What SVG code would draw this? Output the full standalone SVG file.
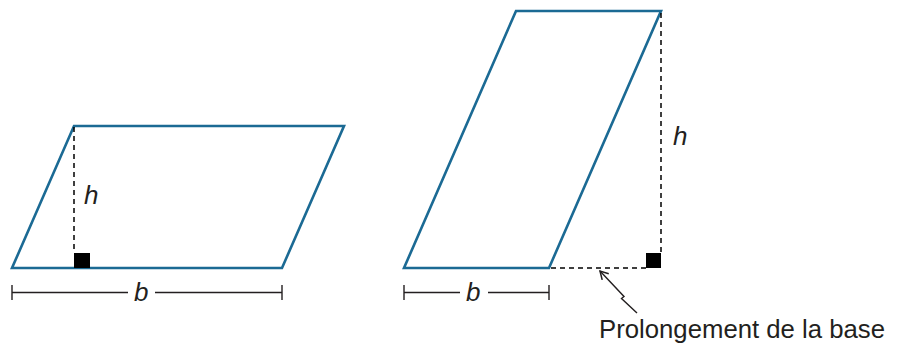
<svg xmlns="http://www.w3.org/2000/svg" width="902" height="345" viewBox="0 0 902 345">
<style>
.shape{fill:none;stroke:#1b6a94;stroke-width:2.6;stroke-linejoin:miter}
.dash{fill:none;stroke:#000;stroke-width:1.5;stroke-dasharray:5 4}
.dim{fill:none;stroke:#231f20;stroke-width:1.4}
.sq{fill:#000}
.lbl{font-family:"Liberation Sans",Arial,sans-serif;font-style:italic;font-size:26px;fill:#231f20}
.note{font-family:"Liberation Sans",Arial,sans-serif;font-size:25px;fill:#231f20}
</style>
<defs>
<marker id="openArrow" markerWidth="12" markerHeight="12" refX="9" refY="5" orient="auto-start-reverse" markerUnits="userSpaceOnUse">
<path d="M1,0.5 L9,5 L1,9.5" fill="none" stroke="#231f20" stroke-width="1.5"/>
</marker>
</defs>
<g id="parallelogram-left">
<polygon class="shape" points="12,268 282,268 344,126 74,126"/>
<line class="dash" x1="74" y1="127" x2="74" y2="253"/>
<rect class="sq" x="74" y="253" width="16" height="15"/>
<text class="lbl" x="84" y="204">h</text>
</g>
<g id="parallelogram-right">
<polygon class="shape" points="404,268 549,268 661,11 516,11"/>
<text class="lbl" x="673" y="145">h</text>
</g>
<g id="connectors">
<line class="dash" x1="661" y1="13" x2="661" y2="253"/>
<line class="dash" x1="551" y1="268" x2="646" y2="268"/>
<rect class="sq" x="646" y="253" width="15" height="15"/>
<g id="dim-left">
<line class="dim" x1="12" y1="292.5" x2="128" y2="292.5"/>
<line class="dim" x1="155" y1="292.5" x2="282" y2="292.5"/>
<line class="dim" x1="12" y1="285" x2="12" y2="300"/>
<line class="dim" x1="282" y1="285" x2="282" y2="300"/>
<text class="lbl" x="134" y="301">b</text>
</g>
<g id="dim-right">
<line class="dim" x1="404" y1="292.5" x2="460" y2="292.5"/>
<line class="dim" x1="488" y1="292.5" x2="549" y2="292.5"/>
<line class="dim" x1="404" y1="285" x2="404" y2="300"/>
<line class="dim" x1="549" y1="285" x2="549" y2="300"/>
<text class="lbl" x="466" y="301">b</text>
</g>
<polyline class="dim" points="637,313 621.5,298.5 624,296.5 600,271" marker-end="url(#openArrow)"/>
</g>
<g id="note">
<text class="note" x="599" y="338" textLength="286" lengthAdjust="spacingAndGlyphs">Prolongement de la base</text>
</g>
</svg>
